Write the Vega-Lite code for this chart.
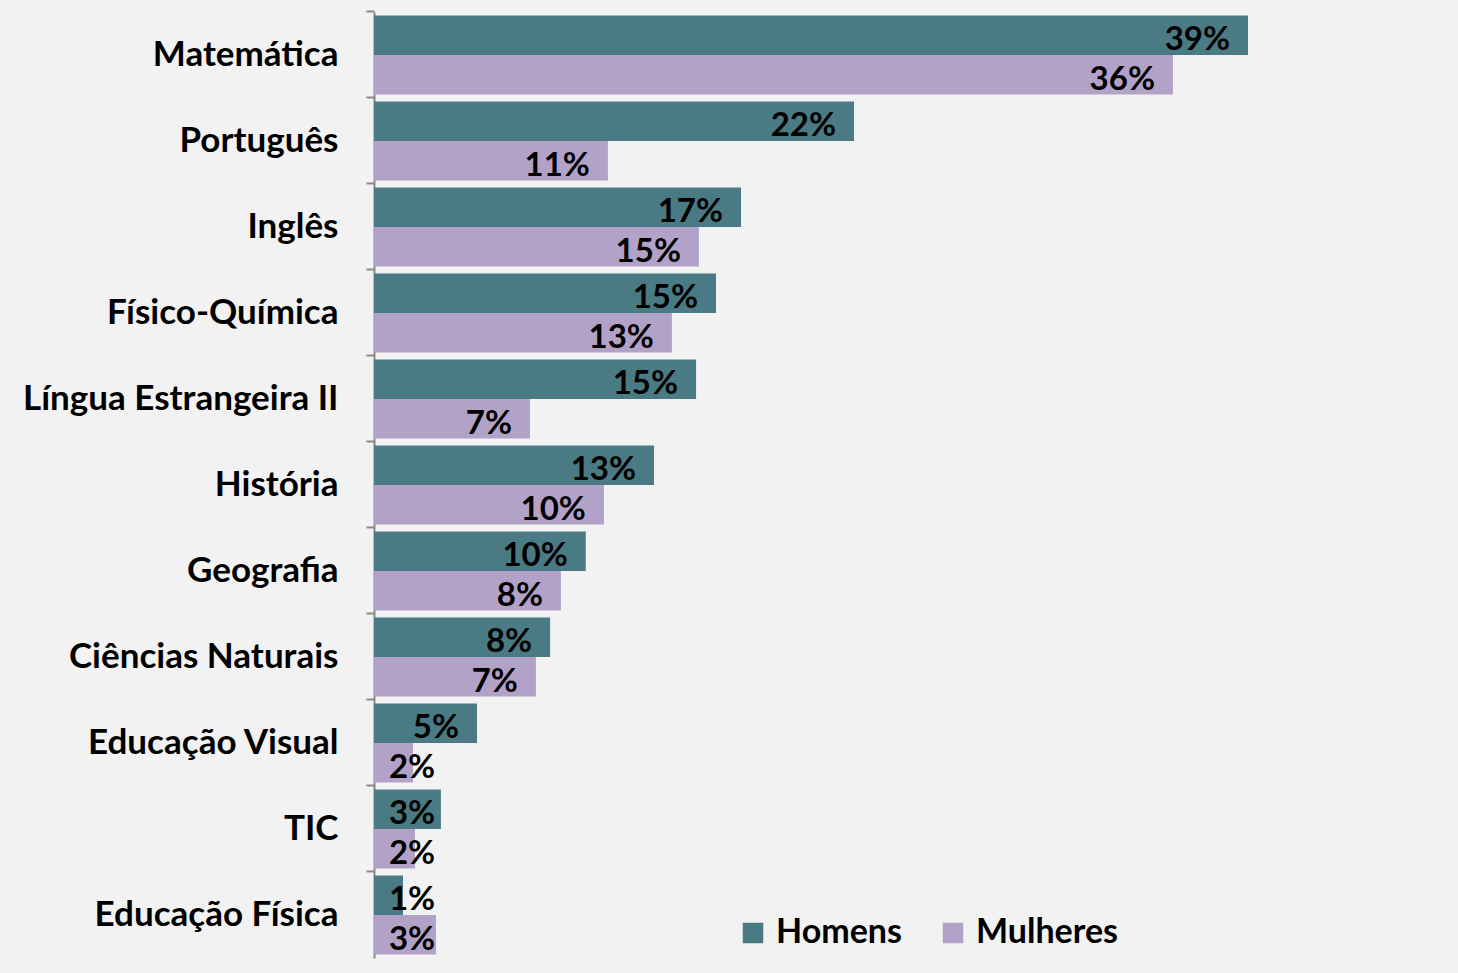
{
  "$schema": "https://vega.github.io/schema/vega-lite/v6.json",
  "width": 1084,
  "height": 946,
  "autosize": {"type": "none"},
  "padding": {"left": 374, "top": 12, "right": 0, "bottom": 15},
  "background": "#f2f2f2",
  "config": {
    "view": {"stroke": null},
    "font": "Lato",
    "axis": {"labelFont": "Lato", "titleFont": "Lato"}
  },
  "data": {
    "values": [
      {"disciplina": "Matemática", "sexo": "Homens", "valor": 0.3946},
      {"disciplina": "Matemática", "sexo": "Mulheres", "valor": 0.3607},
      {"disciplina": "Português", "sexo": "Homens", "valor": 0.2167},
      {"disciplina": "Português", "sexo": "Mulheres", "valor": 0.1056},
      {"disciplina": "Inglês", "sexo": "Homens", "valor": 0.1657},
      {"disciplina": "Inglês", "sexo": "Mulheres", "valor": 0.1467},
      {"disciplina": "Físico-Química", "sexo": "Homens", "valor": 0.1544},
      {"disciplina": "Físico-Química", "sexo": "Mulheres", "valor": 0.1345},
      {"disciplina": "Língua Estrangeira II", "sexo": "Homens", "valor": 0.1454},
      {"disciplina": "Língua Estrangeira II", "sexo": "Mulheres", "valor": 0.0704},
      {"disciplina": "História", "sexo": "Homens", "valor": 0.1264},
      {"disciplina": "História", "sexo": "Mulheres", "valor": 0.1038},
      {"disciplina": "Geografia", "sexo": "Homens", "valor": 0.0956},
      {"disciplina": "Geografia", "sexo": "Mulheres", "valor": 0.0844},
      {"disciplina": "Ciências Naturais", "sexo": "Homens", "valor": 0.0795},
      {"disciplina": "Ciências Naturais", "sexo": "Mulheres", "valor": 0.0731},
      {"disciplina": "Educação Visual", "sexo": "Homens", "valor": 0.0465},
      {"disciplina": "Educação Visual", "sexo": "Mulheres", "valor": 0.0176},
      {"disciplina": "TIC", "sexo": "Homens", "valor": 0.0302},
      {"disciplina": "TIC", "sexo": "Mulheres", "valor": 0.0185},
      {"disciplina": "Educação Física", "sexo": "Homens", "valor": 0.0131},
      {"disciplina": "Educação Física", "sexo": "Mulheres", "valor": 0.028}
    ]
  },
  "encoding": {
    "y": {
      "field": "disciplina",
      "type": "nominal",
      "sort": null,
      "scale": {"paddingInner": 0.08, "paddingOuter": 0.04},
      "axis": {
        "title": null,
        "bandPosition": -0.0435,
        "domainColor": "#888888",
        "domainWidth": 2,
        "tickColor": "#888888",
        "tickWidth": 2,
        "tickSize": 8,
        "labelPadding": 28,
        "labelFontSize": 35,
        "labelFontWeight": "bold",
        "labelColor": "#000000",
        "labelLimit": 400
      }
    },
    "yOffset": {
      "field": "sexo",
      "type": "nominal",
      "sort": ["Homens", "Mulheres"],
      "scale": {"paddingInner": 0, "paddingOuter": 0}
    }
  },
  "layer": [
    {
      "mark": {"type": "bar"},
      "encoding": {
        "x": {
          "field": "valor",
          "type": "quantitative",
          "scale": {"domain": [0, 0.4894], "nice": false, "zero": true},
          "axis": null
        },
        "color": {
          "field": "sexo",
          "type": "nominal",
          "scale": {"domain": ["Homens", "Mulheres"], "range": ["#4a7a83", "#b3a2c8"]},
          "legend": {
            "title": null,
            "orient": "none",
            "direction": "horizontal",
            "legendX": 362,
            "legendY": 904,
            "symbolType": "square",
            "symbolSize": 420,
            "symbolStrokeWidth": 0,
            "labelFontSize": 34,
            "labelFontWeight": "bold",
            "labelColor": "#000000",
            "labelFont": "Lato",
            "columnPadding": 34,
            "labelOffset": 6
          }
        }
      }
    },
    {
      "transform": [{"calculate": "max(datum.valor, 0.0357)", "as": "pos"}],
      "mark": {
        "type": "text",
        "align": "right",
        "baseline": "middle",
        "dx": -18,
        "dy": 5,
        "fontSize": 33,
        "fontWeight": "bold",
        "font": "Lato",
        "color": "#000000"
      },
      "encoding": {
        "x": {"field": "pos", "type": "quantitative"},
        "text": {"field": "valor", "type": "quantitative", "format": ".0%"}
      }
    }
  ]
}
